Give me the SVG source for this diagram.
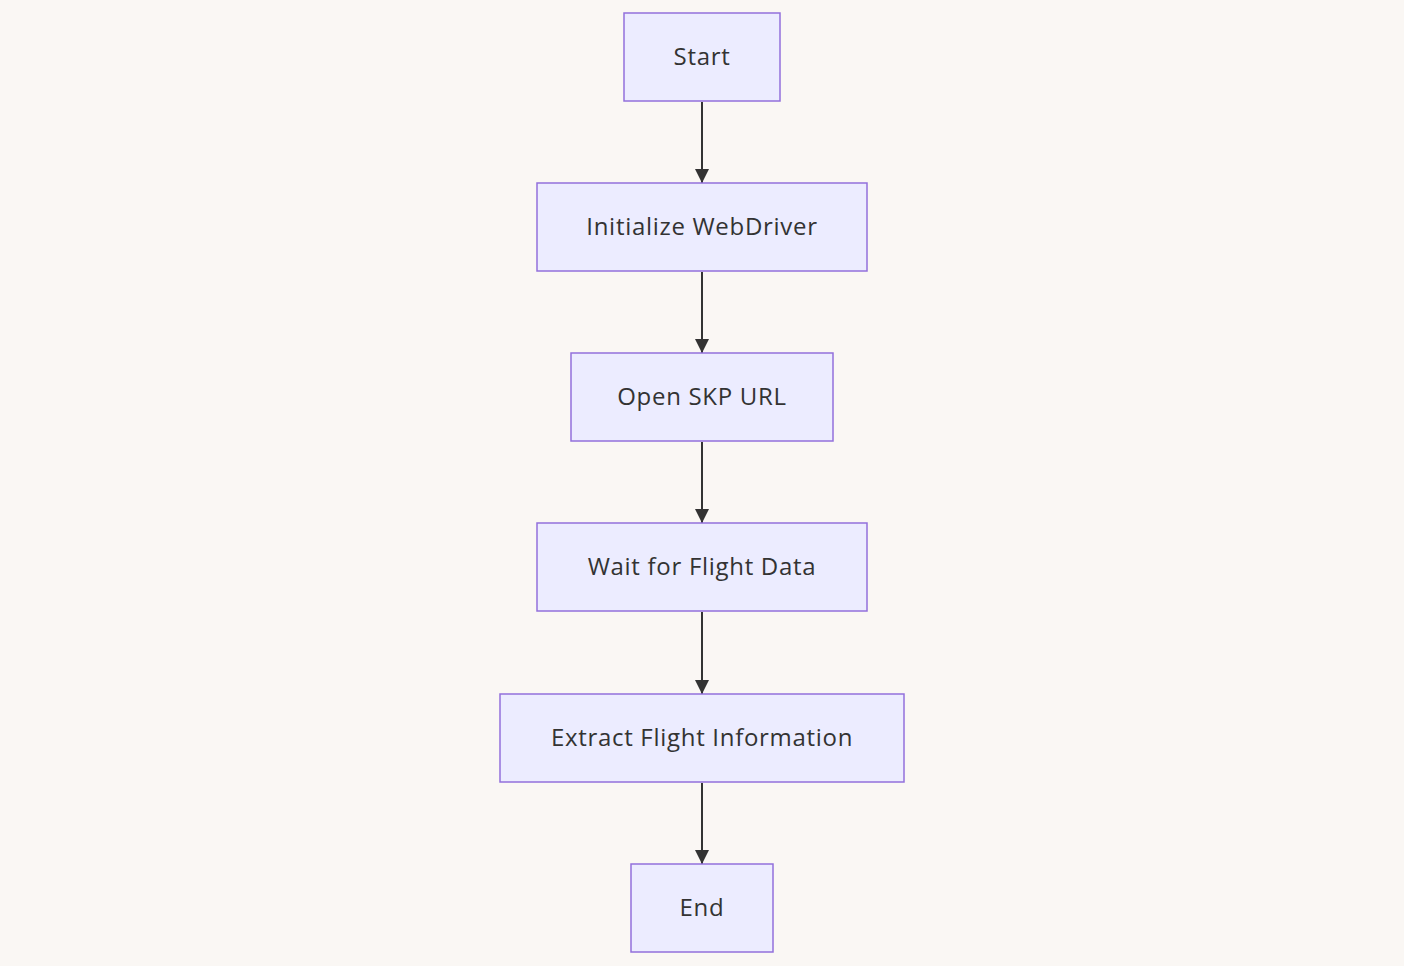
<svg xmlns="http://www.w3.org/2000/svg" width="1404" height="966" viewBox="0 0 1404 966">
<style>
.node rect{fill:#ececff;stroke:#9370db;stroke-width:1.5}
.node text{font-family:"Open Sans","DejaVu Sans",sans-serif;font-size:24px;letter-spacing:0.7px;fill:#333;text-anchor:middle;dominant-baseline:central}
.edge{stroke:#333;stroke-width:2;fill:none}
</style>
<defs>
<marker id="arr" markerWidth="14" markerHeight="14" viewBox="0 0 14 14" refX="14" refY="7" orient="auto" markerUnits="userSpaceOnUse">
<path d="M0,0 L14,7 L0,14 Z" fill="#333"/>
</marker>
</defs>
<rect width="1404" height="966" fill="#faf7f4"/>
<g id="connectors">
<line class="edge" x1="702" y1="102" x2="702" y2="183" marker-end="url(#arr)"/>
<line class="edge" x1="702" y1="272" x2="702" y2="353" marker-end="url(#arr)"/>
<line class="edge" x1="702" y1="442" x2="702" y2="523" marker-end="url(#arr)"/>
<line class="edge" x1="702" y1="612" x2="702" y2="694" marker-end="url(#arr)"/>
<line class="edge" x1="702" y1="783" x2="702" y2="864" marker-end="url(#arr)"/>
</g>
<g id="start" class="node"><rect x="624" y="13" width="156" height="88"/><text x="702" y="55.5">Start</text></g>
<g id="init" class="node"><rect x="537" y="183" width="330" height="88"/><text x="702" y="225.5">Initialize WebDriver</text></g>
<g id="open" class="node"><rect x="571" y="353" width="262" height="88"/><text x="702" y="395.5">Open SKP URL</text></g>
<g id="wait" class="node"><rect x="537" y="523" width="330" height="88"/><text x="702" y="565.5">Wait for Flight Data</text></g>
<g id="extract" class="node"><rect x="500" y="694" width="404" height="88"/><text x="702" y="736.5">Extract Flight Information</text></g>
<g id="end" class="node"><rect x="631" y="864" width="142" height="88"/><text x="702" y="906.5">End</text></g>
</svg>
